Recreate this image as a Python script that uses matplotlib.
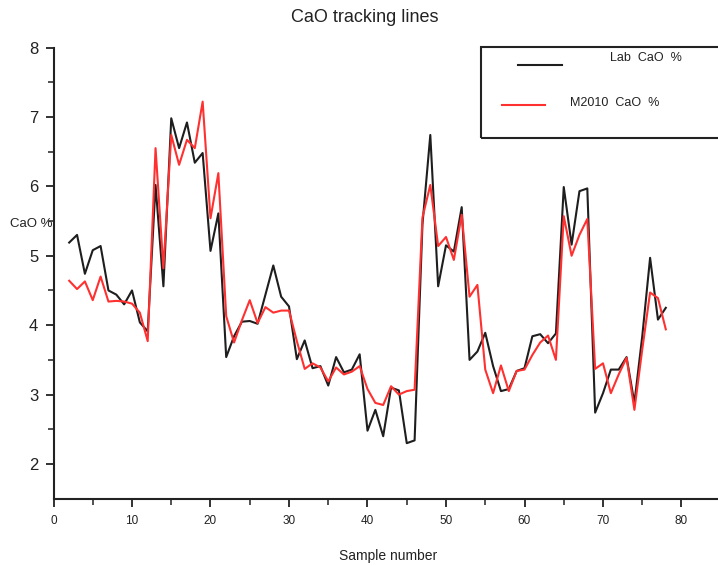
import matplotlib
matplotlib.use("Agg")
import matplotlib.pyplot as plt
from matplotlib.lines import Line2D
from matplotlib.patches import Rectangle

plt.rcParams['font.family'] = ['Liberation Sans', 'DejaVu Sans']

# Data (sample 2..78)
samples = list(range(2, 79))
lab_cao = [5.19, 5.30, 4.74, 5.08, 5.14, 4.50, 4.44, 4.30, 4.50, 4.04,
           3.91, 6.02, 4.56, 6.98, 6.55, 6.92, 6.34, 6.48, 5.07, 5.61,
           3.54, 3.84, 4.05, 4.06, 4.02, 4.44, 4.86, 4.41, 4.27, 3.51,
           3.78, 3.38, 3.41, 3.13, 3.54, 3.32, 3.36, 3.58, 2.48, 2.78,
           2.40, 3.10, 3.06, 2.30, 2.34, 5.45, 6.74, 4.56, 5.15, 5.06,
           5.70, 3.50, 3.62, 3.89, 3.41, 3.05, 3.08, 3.34, 3.38, 3.84,
           3.87, 3.74, 3.88, 5.99, 5.16, 5.93, 5.97, 2.74, 3.02, 3.36,
           3.36, 3.54, 2.88, 3.84, 4.97, 4.08, 4.25]
m2010_cao = [4.64, 4.52, 4.63, 4.36, 4.70, 4.34, 4.35, 4.34, 4.31, 4.18,
             3.77, 6.55, 4.82, 6.74, 6.31, 6.67, 6.55, 7.22, 5.54, 6.19,
             4.13, 3.75, 4.07, 4.36, 4.03, 4.26, 4.18, 4.21, 4.21, 3.77,
             3.37, 3.45, 3.39, 3.19, 3.39, 3.29, 3.33, 3.41, 3.08, 2.88,
             2.85, 3.12, 3.00, 3.05, 3.07, 5.55, 6.02, 5.14, 5.27, 4.94,
             5.59, 4.41, 4.58, 3.36, 3.02, 3.42, 3.05, 3.34, 3.36, 3.57,
             3.75, 3.85, 3.50, 5.57, 5.00, 5.30, 5.53, 3.37, 3.45, 3.02,
             3.29, 3.53, 2.78, 3.65, 4.47, 4.39, 3.94]
xticks = list(range(0, 81, 10))
yticks = [2, 3, 4, 5, 6, 7, 8]

W, H = 718, 566
fig = plt.figure(figsize=(W / 100, H / 100), dpi=100)
ax = fig.add_axes([53.5 / W, 1 - 498.7 / H, 1 - 53.5 / W, (498.7 - 47.5) / H])

ax.plot(samples, lab_cao, color='#1e1e1e', lw=1.5)
ax.plot(samples, m2010_cao, color='#ff3030', lw=1.5)

ax.set_xlim(0, (W - 53.5) / 7.85)
ax.set_ylim(1.5, 8)
ax.spines['top'].set_visible(False)
ax.spines['right'].set_visible(False)
for s in ('left', 'bottom'):
    ax.spines[s].set_linewidth(1.5)
    ax.spines[s].set_color('#222222')
ax.spines['left'].set_bounds(1.5, 8)

ax.set_xticks(xticks)
ax.set_xticks(range(5, 81, 10), minor=True)
ax.set_yticks(yticks)
ax.set_yticks([2.5, 3.5, 4.5, 5.5, 6.5, 7.5], minor=True)
ax.tick_params(which='major', direction='out', length=6, width=1.3,
               color='#222222')
ax.tick_params(which='minor', direction='out', length=4, width=1.1,
               color='#222222')
ax.tick_params(axis='y', labelsize=12, pad=5, labelcolor='#222222')
ax.tick_params(axis='x', labelsize=8.5, pad=6, labelcolor='#222222')

fig.text(365 / W, 1 - 18 / H, 'CaO tracking lines', ha='center', va='center',
         fontsize=13, color='#222222')
fig.text(388 / W, 1 - 556 / H, 'Sample number', ha='center', va='center',
         fontsize=10, color='#222222')
fig.text(10 / W, 1 - 224 / H, 'CaO %', ha='left', va='center',
         fontsize=9.5, color='#222222')

# legend box drawn by hand to match the reference layout
fig.add_artist(Rectangle((481 / W, 1 - 137.7 / H), 260 / W, 91 / H,
                         transform=fig.transFigure, fill=False,
                         lw=1.5, ec='#222222'))
fig.add_artist(Line2D([518 / W, 562 / W], [1 - 65 / H, 1 - 65 / H],
                      transform=fig.transFigure, color='#1e1e1e', lw=1.5))
fig.add_artist(Line2D([502 / W, 545 / W], [1 - 105 / H, 1 - 105 / H],
                      transform=fig.transFigure, color='#ff3030', lw=1.5))
fig.text(610 / W, 1 - 58 / H, 'Lab  CaO  %', ha='left', va='center',
         fontsize=9, color='#222222')
fig.text(570 / W, 1 - 103 / H, 'M2010  CaO  %', ha='left', va='center',
         fontsize=9, color='#222222')

fig.savefig('out.png', dpi=100)
